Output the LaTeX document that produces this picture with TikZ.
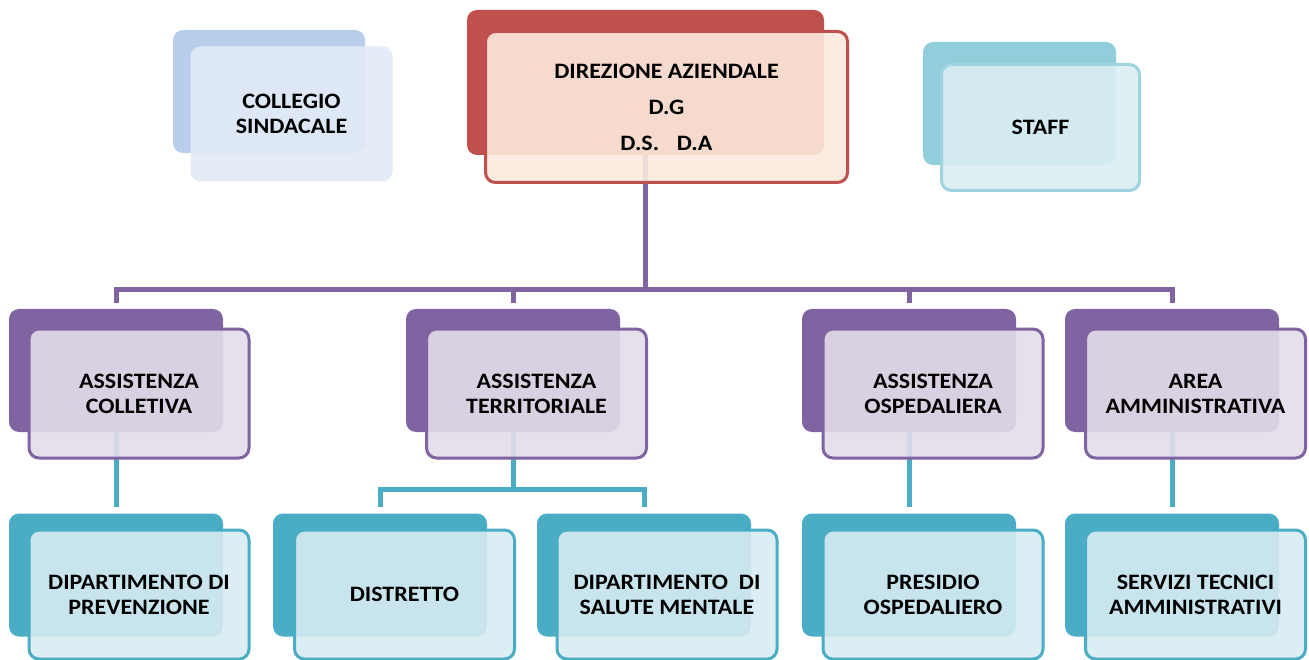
\documentclass[tikz,border=0pt]{standalone}
\usepackage{fontspec}
\setmainfont{Carlito}[FakeStretch=1.09]
\usetikzlibrary{positioning}

\definecolor{redback}{HTML}{C0504D}
\definecolor{redfront}{HTML}{FCE9DD}
\definecolor{purpback}{HTML}{8064A2}
\definecolor{purpfront}{HTML}{E3DCEA}
\definecolor{tealback}{HTML}{4BACC6}
\definecolor{tealfront}{HTML}{D6ECF2}
\definecolor{blueback}{HTML}{B9CDEC}
\definecolor{bluefront}{HTML}{E2EAF6}
\definecolor{staffback}{HTML}{92CDDC}
\definecolor{stafffront}{HTML}{DAEEF3}
\definecolor{staffline}{HTML}{9FD3E0}

\begin{document}
\begin{tikzpicture}[x=1pt,y=-1pt]
\tikzset{
  backbox/.style={rectangle,rounded corners=10pt,draw=none,inner sep=0pt},
  frontbox/.style={rectangle,rounded corners=10pt,line width=3pt,inner sep=2pt,
    fill opacity=0.9,text opacity=1,align=center,
    font=\fontsize{22}{25}\selectfont\bfseries},
  rowback/.style={backbox,minimum width=214pt,minimum height=123pt},
  rowfront/.style={frontbox,minimum width=220pt,minimum height=129pt},
  purpleline/.style={draw=purpback,line width=5pt},
  tealline/.style={draw=tealback,line width=5pt}
}
\useasboundingbox (0,0) rectangle (1309,660);

% back boxes
\node[backbox,fill=redback,minimum width=357pt,minimum height=145pt] (n_dir_b) at (645.5,82.5) {};
\node[backbox,fill=blueback,minimum width=192pt,minimum height=123pt] (n_col_b) at (269,91.5) {};
\node[backbox,fill=staffback,minimum width=193pt,minimum height=123pt] (n_stf_b) at (1019.5,103.5) {};
\node[rowback,fill=purpback] (n_ac_b) at (116,370.5) {};
\node[rowback,fill=purpback] (n_at_b) at (513,370.5) {};
\node[rowback,fill=purpback] (n_ao_b) at (909,370.5) {};
\node[rowback,fill=purpback] (n_aa_b) at (1172,370.5) {};
\node[rowback,fill=tealback] (n_dp_b) at (116,575) {};
\node[rowback,fill=tealback] (n_di_b) at (380,575) {};
\node[rowback,fill=tealback] (n_sm_b) at (644,575) {};
\node[rowback,fill=tealback] (n_po_b) at (909,575) {};
\node[rowback,fill=tealback] (n_st_b) at (1172,575) {};

% connectors
\draw[purpleline] (n_dir_b.south) -- ++(0,134) coordinate (bus);
\foreach \n in {n_ac_b,n_at_b,n_ao_b,n_aa_b}
  \draw[purpleline] (bus) -| ([yshift=6pt]\n.north);
\draw[tealline] (n_ac_b.south) -- ([yshift=6pt]n_dp_b.north);
\draw[tealline] (n_at_b.south) -- ++(0,57) coordinate (tbus);
\draw[tealline] (tbus) -| ([yshift=6pt]n_di_b.north);
\draw[tealline] (tbus) -| ([yshift=6pt]n_sm_b.north);
\draw[tealline] (n_ao_b.south) -- ([yshift=6pt]n_po_b.north);
\draw[tealline] (n_aa_b.south) -- ([yshift=6pt]n_st_b.north);

% front boxes
\node[frontbox,draw=redback,fill=redfront,minimum width=362pt,minimum height=151pt] (n_dir) at (666.5,107)
  {DIREZIONE AZIENDALE\\[11pt]D.G\\[11pt]D.S.\hspace{0.8em}D.A};
\node[frontbox,draw=bluefront,line width=1pt,fill=bluefront,minimum width=201pt,minimum height=134pt] (n_col) at (291.5,114)
  {COLLEGIO\\SINDACALE};
\node[frontbox,draw=staffline,fill=stafffront,minimum width=198pt,minimum height=126pt] (n_stf) at (1040.5,127.5)
  {STAFF};
\node[rowfront,draw=purpback,fill=purpfront] (n_ac) at (139,393.5) {ASSISTENZA\\COLLETIVA};
\node[rowfront,draw=purpback,fill=purpfront] (n_at) at (536.5,393.5) {ASSISTENZA\\TERRITORIALE};
\node[rowfront,draw=purpback,fill=purpfront] (n_ao) at (933,393.5) {ASSISTENZA\\OSPEDALIERA};
\node[rowfront,draw=purpback,fill=purpfront] (n_aa) at (1195.5,393.5) {AREA\\AMMINISTRATIVA};
\node[rowfront,draw=tealback,fill=tealfront] (n_dp) at (139,594.5) {DIPARTIMENTO DI\\PREVENZIONE};
\node[rowfront,draw=tealback,fill=tealfront] (n_di) at (404.5,594.5) {DISTRETTO};
\node[rowfront,draw=tealback,fill=tealfront] (n_sm) at (667,594.5) {DIPARTIMENTO\ \ DI\\SALUTE MENTALE};
\node[rowfront,draw=tealback,fill=tealfront] (n_po) at (933,594.5) {PRESIDIO\\OSPEDALIERO};
\node[rowfront,draw=tealback,fill=tealfront] (n_st) at (1195.5,594.5) {SERVIZI TECNICI\\AMMINISTRATIVI};
\end{tikzpicture}
\end{document}
